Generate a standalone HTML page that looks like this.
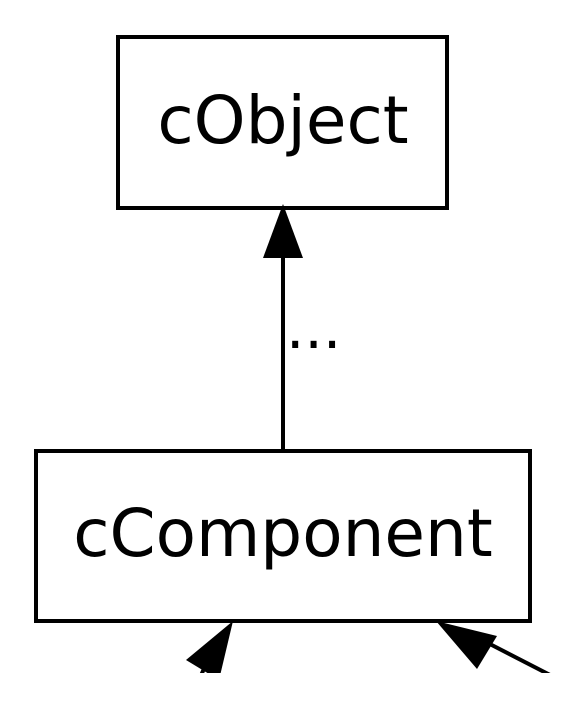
<!DOCTYPE html>
<html><head><meta charset="utf-8"><style>
html,body{margin:0;padding:0;background:#fff;}
svg{display:block;}
</style></head><body>
<svg width="576" height="708" viewBox="0 0 576 708" xmlns="http://www.w3.org/2000/svg">
<defs><clipPath id="c"><rect x="0" y="0" width="576" height="673"/></clipPath></defs>
<rect x="0" y="0" width="576" height="708" fill="#fff"/>
<rect x="118" y="37" width="329" height="171" fill="#fff" stroke="#000" stroke-width="4"/>
<text x="283" y="143" font-family="DejaVu Sans, Liberation Sans, sans-serif" font-size="66" text-anchor="middle" fill="#000">cObject</text>
<line x1="283" y1="255" x2="283" y2="450" stroke="#000" stroke-width="4"/>
<polygon points="283,204 263,258 303,258" fill="#000"/>
<text x="286" y="348" font-family="DejaVu Sans, Liberation Sans, sans-serif" font-size="58" fill="#000">...</text>
<rect x="36" y="451" width="494" height="170" fill="#fff" stroke="#000" stroke-width="4"/>
<text x="283" y="556" font-family="DejaVu Sans, Liberation Sans, sans-serif" font-size="66" text-anchor="middle" fill="#000">cComponent</text>
<g clip-path="url(#c)">
<line x1="199" y1="680" x2="210" y2="655" stroke="#000" stroke-width="4"/>
<polygon points="233,621 186,660 219,680" fill="#000"/>
<line x1="552" y1="676" x2="484" y2="641" stroke="#000" stroke-width="4"/>
<polygon points="436,621 497,636 477,669" fill="#000"/>
</g>
</svg>
</body></html>
